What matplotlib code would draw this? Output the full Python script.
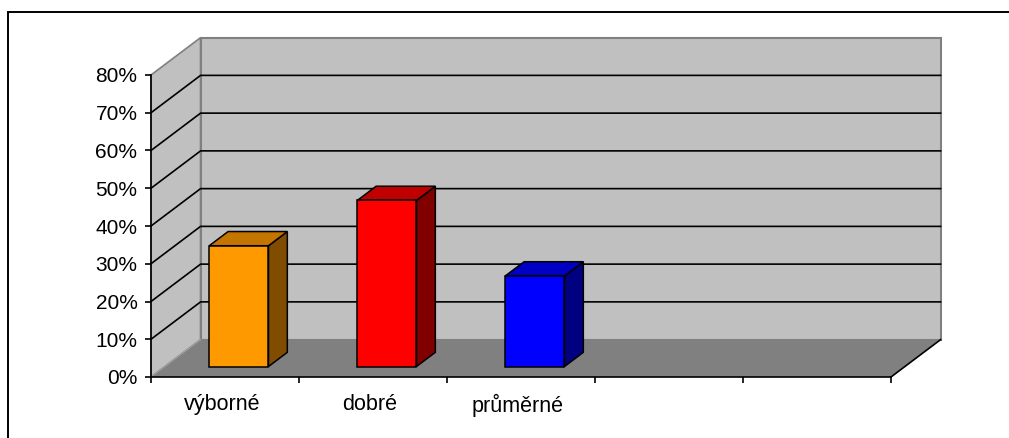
import matplotlib.pyplot as plt
from matplotlib.patches import Polygon, Rectangle

categories = ["výborné", "dobré", "průměrné", "", ""]
values = [32, 44, 24]
front_cols = ["#FF9900", "#FF0000", "#0000FF"]
top_cols = ["#C47500", "#C00000", "#0000C4"]
side_cols = ["#7F4C00", "#800000", "#000080"]
yticks = list(range(0, 81, 10))

# oblique depth offset (in data units) and bar placement
DX, DY = 0.335, 9.9
F0, F1 = 0.28, 0.66
GAP = 1.5

plt.rcParams['font.family'] = ['Liberation Sans', 'DejaVu Sans']
fig = plt.figure(figsize=(10.09, 4.38), dpi=100)
fig.patches.append(Rectangle((8 / 1009, -0.1), 1.2, 1.1 - 12 / 438, transform=fig.transFigure,
                             fill=False, edgecolor='black', linewidth=1.4))

ax = fig.add_axes([151 / 1009, 61 / 438, 740 / 1009, 302 / 438])
ax.set_facecolor('none')
n = len(categories)
top = yticks[-1]

def poly(pts, fc, ec, lw, z):
    ax.add_patch(Polygon(pts, closed=True, facecolor=fc, edgecolor=ec, linewidth=lw,
                         clip_on=False, zorder=z))

# walls and floor
poly([(0, 0), (DX, DY), (DX, top + DY), (0, top)], '#C0C0C0', '#808080', 1.2, 1)
poly([(DX, DY), (n + DX, DY), (n + DX, top + DY), (DX, top + DY)], '#C0C0C0', '#808080', 1.5, 1)
poly([(0, 0), (n, 0), (n + DX, DY), (DX, DY)], '#808080', 'none', 0, 1)
ax.plot([0, DX], [0, DY], color='#A0A0A0', lw=0.8, clip_on=False, zorder=2)
ax.plot([n, n + DX], [0, DY], color='black', lw=1.2, clip_on=False, zorder=2)

# gridlines
for t in yticks[1:-1]:
    ax.plot([0, DX, n + DX], [t, t + DY, t + DY], color='black', lw=1.2,
            clip_on=False, zorder=2)

# bars
w = 1 / (1 + GAP)
for i, v in enumerate(values):
    x0 = i + (1 - w) / 2
    x1 = x0 + w
    a, b = F0, F1
    front = [(x0 + a * DX, a * DY), (x1 + a * DX, a * DY), (x1 + a * DX, v + a * DY), (x0 + a * DX, v + a * DY)]
    side = [(x1 + a * DX, a * DY), (x1 + b * DX, b * DY), (x1 + b * DX, v + b * DY), (x1 + a * DX, v + a * DY)]
    topf = [(x0 + a * DX, v + a * DY), (x1 + a * DX, v + a * DY), (x1 + b * DX, v + b * DY), (x0 + b * DX, v + b * DY)]
    poly(side, side_cols[i], 'black', 1.1, 3)
    poly(topf, top_cols[i], 'black', 1.1, 3)
    poly(front, front_cols[i], 'black', 1.1, 4)

ax.set_xlim(0, n)
ax.set_ylim(0, top)
for s in ['top', 'right']:
    ax.spines[s].set_visible(False)
for s in ['left', 'bottom']:
    ax.spines[s].set_linewidth(1.2)
    ax.spines[s].set_zorder(5)

ax.set_yticks(yticks)
ax.set_yticklabels(["%d%%" % t for t in yticks], fontsize=15)
ax.tick_params(axis='y', direction='out', length=4.3, width=1.2, pad=5.5)
ax.set_xticks(range(n + 1))
ax.set_xticklabels([])
ax.tick_params(axis='x', which='major', direction='out', length=4.3, width=1.2)
ax.set_xticks([i + 0.48 for i in range(n)], minor=True)
ax.set_xticklabels(categories, minor=True, fontsize=15.5)
ax.tick_params(axis='x', which='minor', length=0, pad=12.5)

fig.savefig('out.png', dpi=100)
